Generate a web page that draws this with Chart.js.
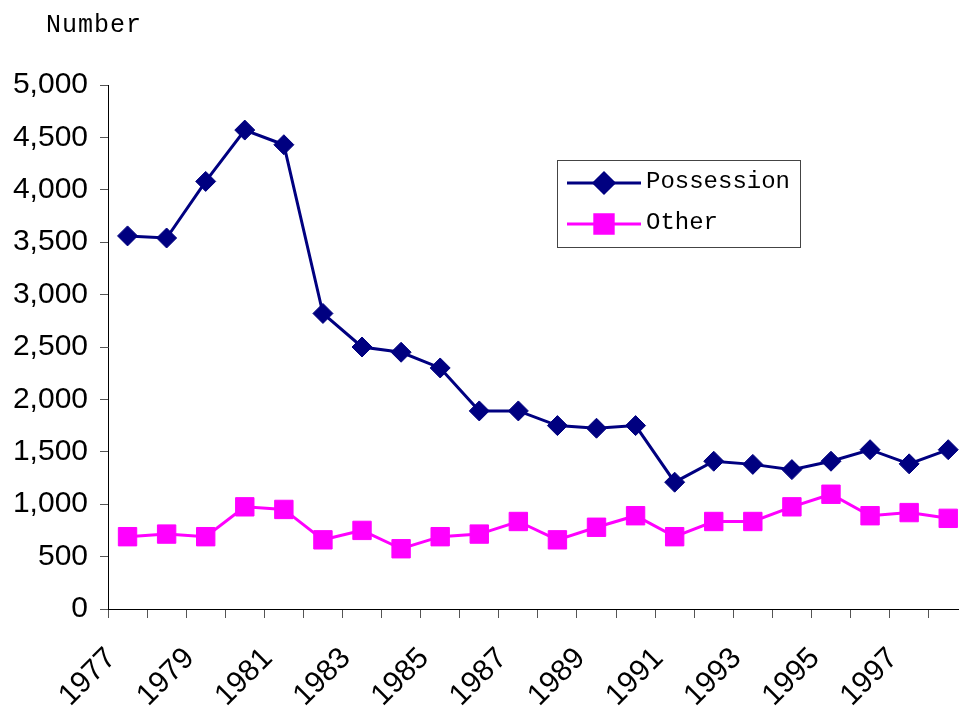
<!DOCTYPE html>
<html>
<head>
<meta charset="utf-8">
<script src="https://cdn.jsdelivr.net/npm/chart.js@4"></script>
<style>
  html, body { margin: 0; padding: 0; background: #fff; overflow: hidden; }
  #wrap { width: 959px; height: 706px; overflow: hidden; position: relative; }
  #box { width: 997px; height: 706px; }
</style>
</head>
<body>
<div id="wrap"><div id="box"><canvas id="grafico"></canvas></div></div>
<script>
const years = ['1977','1978','1979','1980','1981','1982','1983','1984','1985','1986','1987',
               '1988','1989','1990','1991','1992','1993','1994','1995','1996','1997','1998'];
const possession = [3560, 3540, 4080, 4570, 4430, 2820, 2500, 2450, 2300, 1890, 1890,
                    1750, 1725, 1750, 1210, 1410, 1380, 1330, 1410, 1520, 1385, 1520];
const other = [690, 715, 690, 975, 950, 660, 750, 575, 690, 715, 835,
               660, 780, 890, 690, 835, 835, 975, 1095, 890, 920, 865];
const yTicks = [0, 500, 1000, 1500, 2000, 2500, 3000, 3500, 4000, 4500, 5000];

const monoFont = '"Liberation Mono", "DejaVu Sans Mono", monospace';

// Titulo del eje y leyenda con linea + marcador (no existe en la leyenda nativa)
const decoracion = {
    id: 'decoracion',
    afterDraw(chart) {
        const ctx = chart.ctx;
        const ds = chart.data.datasets;
        ctx.save();
        ctx.font = '25px ' + monoFont;
        ctx.fillStyle = '#000';
        ctx.textBaseline = 'middle';
        ctx.textAlign = 'left';
        ctx.letterSpacing = '1px';
        ctx.fillText('Number', 46, 25);
        ctx.letterSpacing = '0px';

        // caja de la leyenda
        ctx.strokeStyle = '#444';
        ctx.lineWidth = 1;
        ctx.strokeRect(557.5, 160.5, 243, 87);

        ctx.font = '24px ' + monoFont;
        const filas = [183, 224];
        ds.forEach((d, i) => {
            const y = filas[i];
            ctx.strokeStyle = d.borderColor;
            ctx.lineWidth = 3;
            ctx.beginPath();
            ctx.moveTo(567, y);
            ctx.lineTo(641, y);
            ctx.stroke();
            Chart.helpers.drawPoint(ctx, {
                pointStyle: d.pointStyle,
                radius: d.pointRadius,
                borderWidth: 1
            }, 604, y);
            ctx.fillStyle = d.pointBackgroundColor;
            ctx.strokeStyle = d.pointBorderColor;
            ctx.fill();
            ctx.fillStyle = '#000';
            ctx.fillText(d.label, 646, y - 1);
        });
        ctx.restore();
    }
};

const ctx = document.getElementById('grafico').getContext('2d');
new Chart(ctx, {
    type: 'line',
    data: {
        labels: years,
        datasets: [{
            label: 'Possession',
            data: possession,
            borderColor: '#000080',
            backgroundColor: '#000080',
            pointBackgroundColor: '#000080',
            pointBorderColor: '#000080',
            borderWidth: 3,
            pointStyle: 'rectRot',
            pointRadius: 10,
            pointBorderWidth: 1,
            tension: 0
        }, {
            label: 'Other',
            data: other,
            borderColor: '#FF00FF',
            backgroundColor: '#FF00FF',
            pointBackgroundColor: '#FF00FF',
            pointBorderColor: '#FF00FF',
            borderWidth: 3,
            pointStyle: 'rect',
            pointRadius: 13,
            pointBorderWidth: 1,
            tension: 0
        }]
    },
    options: {
        responsive: true,
        maintainAspectRatio: false,
        animation: false,
        layout: { padding: { top: 85, right: 13, left: 0, bottom: 0 } },
        plugins: {
            legend: { display: false },
            tooltip: { enabled: false }
        },
        scales: {
            x: {
                offset: true,
                grid: {
                    offset: true,
                    drawOnChartArea: false,
                    drawTicks: true,
                    tickLength: 9,
                    color: '#555'
                },
                border: { color: '#000', width: 1 },
                ticks: {
                    autoSkip: false,
                    maxRotation: 45,
                    minRotation: 45,
                    labelOffset: -16,
                    padding: 23,
                    color: '#000',
                    font: { family: '"Liberation Sans", Arial, sans-serif', size: 30 },
                    callback: (v, i) => (i % 2 === 0 ? years[i] : '')
                },
                afterFit: s => { s.height = 97; }
            },
            y: {
                min: 0,
                max: 5000,
                afterBuildTicks: s => { s.ticks = yTicks.map(v => ({ value: v })); },
                grid: {
                    drawOnChartArea: false,
                    tickLength: 8,
                    color: '#555'
                },
                border: { color: '#000', width: 1 },
                ticks: {
                    padding: 12,
                    color: '#000',
                    font: { family: '"Liberation Sans", Arial, sans-serif', size: 30 },
                    callback: v => v.toLocaleString('en-US')
                },
                afterFit: s => { s.width = 108; }
            }
        }
    },
    plugins: [decoracion]
});
</script>
</body>
</html>
